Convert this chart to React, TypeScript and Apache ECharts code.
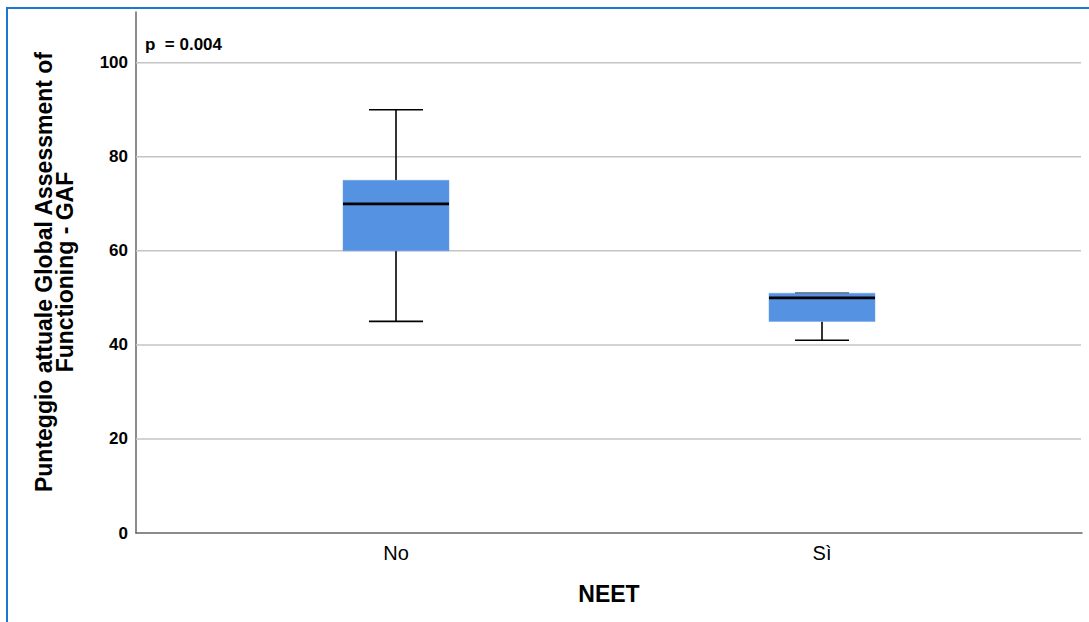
import React, { useEffect, useRef } from "react";
import * as echarts from "echarts";

const categories = ["No", "Sì"];
const mins = [45, 41];
const q1s = [60, 45];
const medians = [70, 50];
const q3s = [75, 51];
const maxs = [90, 51];
const gridValues = [20, 40, 60, 80, 100];
const yMax = 110.8;
const pText = "p  = 0.004";
const yTitle = "Punteggio attuale Global Assessment of\nFunctioning - GAF";
const xTitle = "NEET";

export default function App() {
  const ref = useRef<HTMLDivElement>(null);
  useEffect(() => {
    document.body.style.margin = "0";
    const chart = echarts.init(ref.current!, null, { renderer: "svg" });
    const font = "Arial, 'Liberation Sans', sans-serif";
    const boxData = categories.map((_, i) => [i, mins[i], q1s[i], medians[i], q3s[i], maxs[i]]);
    chart.setOption({
      animation: false,
      backgroundColor: "#fff",
      textStyle: { fontFamily: font },
      grid: [
        { left: 136, top: 12, width: 946, height: 521 },
        { left: 183, top: 12, width: 852, height: 521 },
      ],
      xAxis: [
        {
          gridIndex: 0, type: "value", min: 0, max: 1,
          axisLine: { show: true, lineStyle: { color: "#666", width: 1.5 } },
          axisTick: { show: false }, axisLabel: { show: false }, splitLine: { show: false },
        },
        {
          gridIndex: 1, type: "category", data: categories, boundaryGap: true,
          axisLine: { show: false }, axisTick: { show: false }, splitLine: { show: false },
          axisLabel: { color: "#000", fontSize: 20, margin: 10, fontFamily: font },
        },
      ],
      yAxis: [
        {
          gridIndex: 0, type: "value", min: 0, max: yMax, interval: 20,
          axisLine: { show: true, lineStyle: { color: "#666", width: 1.5 } },
          axisTick: { show: false }, splitLine: { show: false },
          axisLabel: { color: "#000", fontSize: 17, fontWeight: "bold", margin: 8, showMaxLabel: false, fontFamily: font },
        },
        {
          gridIndex: 1, type: "value", min: 0, max: yMax, interval: 20, show: false,
          splitLine: { show: false },
        },
      ],
      series: [
        {
          type: "custom", xAxisIndex: 0, yAxisIndex: 0, z: 1,
          data: gridValues.map((v) => [0, v]),
          encode: { x: 0, y: 1 },
          renderItem: (params: any, api: any) => {
            const cs = params.coordSys;
            const y = api.coord([0, api.value(1)])[1];
            return {
              type: "line",
              shape: { x1: cs.x, y1: y, x2: cs.x + cs.width - 1, y2: y },
              style: { stroke: "#c4c4c4", lineWidth: 1.5 },
            };
          },
        },
        {
          type: "custom", xAxisIndex: 1, yAxisIndex: 1, z: 3,
          data: boxData,
          encode: { x: 0, y: [1, 2, 3, 4, 5] },
          renderItem: (params: any, api: any) => {
            const idx = api.value(0);
            const pMin = api.coord([idx, api.value(1)]);
            const pQ1 = api.coord([idx, api.value(2)]);
            const pMed = api.coord([idx, api.value(3)]);
            const pQ3 = api.coord([idx, api.value(4)]);
            const pMax = api.coord([idx, api.value(5)]);
            const cx = pMin[0];
            const half = 53;
            const cap = 27;
            const ws = { stroke: "#000", lineWidth: 1.6 };
            return {
              type: "group",
              children: [
                { type: "line", shape: { x1: cx, y1: pMax[1], x2: cx, y2: pQ3[1] }, style: ws },
                { type: "line", shape: { x1: cx, y1: pQ1[1], x2: cx, y2: pMin[1] }, style: ws },
                { type: "line", shape: { x1: cx - cap, y1: pMax[1], x2: cx + cap, y2: pMax[1] }, style: ws },
                { type: "line", shape: { x1: cx - cap, y1: pMin[1], x2: cx + cap, y2: pMin[1] }, style: ws },
                {
                  type: "rect",
                  shape: { x: cx - half, y: pQ3[1], width: 2 * half, height: pQ1[1] - pQ3[1] },
                  style: { fill: "#5592e2", stroke: "#6ea2e6", lineWidth: 0.5 },
                },
                {
                  type: "line",
                  shape: { x1: cx - half, y1: pMed[1], x2: cx + half, y2: pMed[1] },
                  style: { stroke: "#000", lineWidth: 2.8 },
                },
              ],
            };
          },
        },
      ],
      graphic: [
        {
          type: "rect", z: 10, silent: true,
          shape: { x: 7, y: 8, width: 2000, height: 2000 },
          style: { fill: "none", stroke: "#1a78d2", lineWidth: 2 },
        },
        {
          type: "text", x: 145, y: 44,
          style: { text: pText, fill: "#000", font: `bold 17px ${font}`, textAlign: "left", textVerticalAlign: "middle" },
        },
        {
          type: "text", x: 54, y: 272, rotation: Math.PI / 2,
          style: {
            text: yTitle, fill: "#000", font: `bold 23px ${font}`, lineHeight: 21,
            textAlign: "center", textVerticalAlign: "middle",
          },
        },
        {
          type: "text", x: 609, y: 594,
          style: { text: xTitle, fill: "#000", font: `bold 23px ${font}`, textAlign: "center", textVerticalAlign: "middle" },
        },
      ],
    });
    return () => chart.dispose();
  }, []);
  return <div ref={ref} style={{ width: 1089, height: 622 }} />;
}
